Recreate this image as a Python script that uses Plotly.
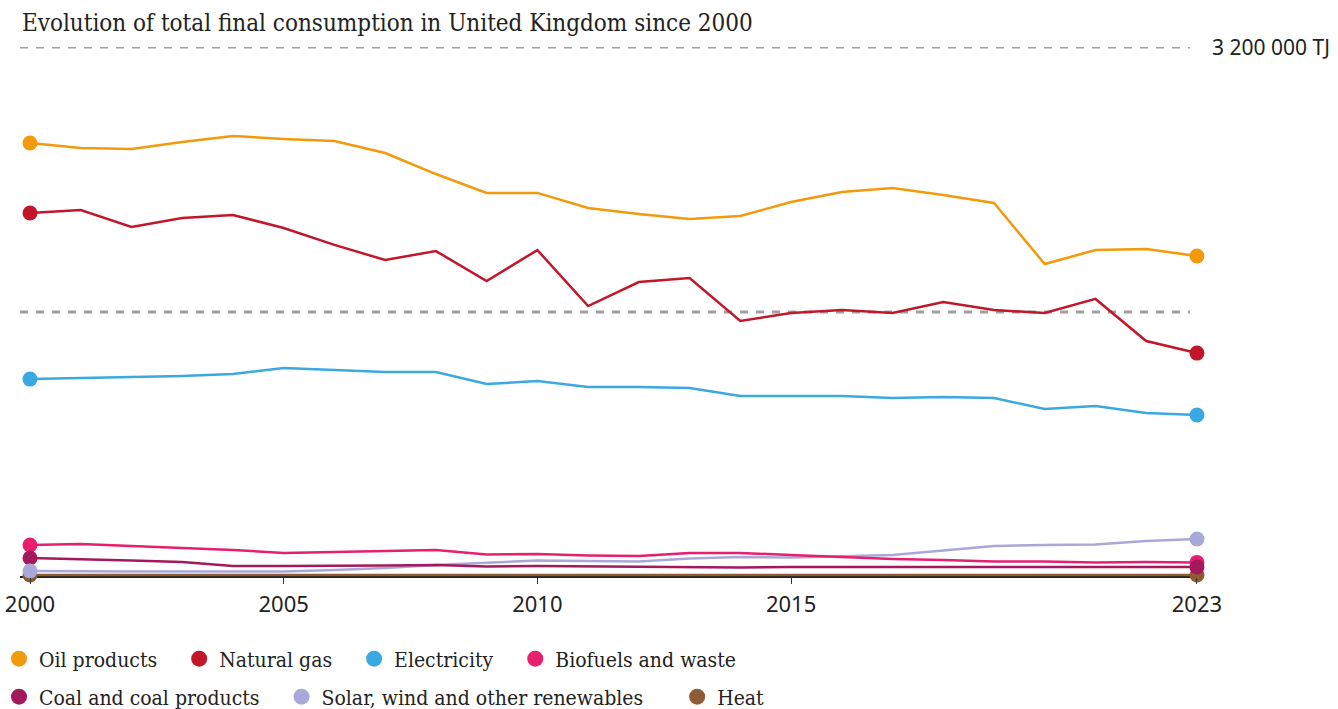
import plotly.graph_objects as go

years = list(range(2000, 2024))

oil_products = [2620000, 2590000, 2584000, 2627000, 2663000, 2645000, 2633000, 2560000,
                2433000, 2319000, 2319000, 2228000, 2192000, 2162000, 2180000, 2264000,
                2325000, 2349000, 2307000, 2258000, 1890000, 1974000, 1980000, 1938000]
natural_gas = [2198000, 2216000, 2113000, 2168000, 2186000, 2107000, 2005000, 1914000,
               1968000, 1787000, 1974000, 1636000, 1781000, 1805000, 1546000, 1594000,
               1612000, 1594000, 1660000, 1612000, 1594000, 1679000, 1425000, 1352000]
electricity = [1195000, 1202000, 1205000, 1214000, 1226000, 1262000, 1250000, 1238000,
               1238000, 1165000, 1183000, 1147000, 1147000, 1141000, 1093000, 1093000,
               1093000, 1081000, 1087000, 1081000, 1014000, 1032000, 990000, 978000]
biofuels_waste = [193000, 199000, 187000, 175000, 163000, 145000, 151000, 154000,
                  163000, 136000, 139000, 130000, 127000, 145000, 145000, 133000,
                  121000, 109000, 103000, 94000, 94000, 88000, 91000, 88000]
coal = [115000, 109000, 100000, 91000, 66000, 66000, 66000, 69000,
        72000, 63000, 66000, 63000, 63000, 60000, 57000, 60000,
        60000, 60000, 60000, 60000, 60000, 58000, 58000, 60000]
renewables = [36000, 33000, 33000, 33000, 33000, 33000, 42000, 54000,
              72000, 85000, 100000, 97000, 94000, 112000, 121000, 118000,
              127000, 133000, 160000, 187000, 193000, 196000, 217000, 229000]
heat = [12000] * 24

ref_lines = [1600000, 3200000]

series = [
    ("Oil products", oil_products, "#f39a0c", "legend"),
    ("Natural gas", natural_gas, "#c2172b", "legend"),
    ("Electricity", electricity, "#3aa9e1", "legend"),
    ("Biofuels and waste", biofuels_waste, "#e61f6f", "legend"),
    ("Coal and coal products", coal, "#a3195b", "legend2"),
    ("Solar, wind and other renewables", renewables, "#aaa8d8", "legend2"),
    ("Heat", heat, "#8e5b32", "legend2"),
]

line_order = [0, 1, 2, 5, 3, 4, 6]
dot_order = [0, 1, 2, 3, 6, 4, 5]

W, H = 1338, 709
left, right_edge, top, zero_y = 20, 1200, 47, 577

fig = go.Figure()

# dashed reference lines
for v in ref_lines:
    fig.add_shape(type="line", xref="paper", x0=0, x1=0.9915, yref="y", y0=v, y1=v,
                  line=dict(color="#a0a0a0", width=3, dash="8px,8px"), layer="below")

for i in line_order:
    name, vals, color, _ = series[i]
    fig.add_trace(go.Scatter(x=years, y=vals, mode="lines", name=name,
                             line=dict(color=color, width=2.5),
                             showlegend=False, cliponaxis=False, hoverinfo="skip"))
for i in dot_order:
    name, vals, color, _ = series[i]
    fig.add_trace(go.Scatter(x=[years[0], years[-1]], y=[vals[0], vals[-1]], mode="markers",
                             name=name, marker=dict(size=15, color=color, opacity=1),
                             showlegend=False, cliponaxis=False))

# legend-only marker traces
pad = "\u00a0" * 3
for name, vals, color, leg in series:
    extra = "\u00a0" * 2 if name.startswith("Solar") else ""
    fig.add_trace(go.Scatter(x=[None], y=[None], mode="markers", name=name + pad + extra,
                             marker=dict(size=17, color=color), legend=leg))

font_serif = "DejaVu Serif Condensed"
leg_font = dict(family=font_serif, size=21, color="#222")
fig.update_layout(
    width=W, height=H,
    margin=dict(l=left, r=W - right_edge, t=top, b=H - zero_y, autoexpand=False),
    plot_bgcolor="white", paper_bgcolor="white",
    showlegend=True,
    legend=dict(orientation="h", xref="container", x=0, xanchor="left", indentation=-1,
                yref="container", y=1 - 659 / H, yanchor="middle",
                font=leg_font, itemsizing="trace", bgcolor="rgba(0,0,0,0)"),
    legend2=dict(orientation="h", xref="container", x=0, xanchor="left", indentation=-1,
                 yref="container", y=1 - 697 / H, yanchor="middle",
                 font=leg_font, itemsizing="trace", bgcolor="rgba(0,0,0,0)"),
)
fig.update_xaxes(range=[2000 - 0.197, 2023 + 0.06], tickvals=[2000, 2005, 2010, 2015, 2023],
                 showgrid=False, ticks="outside", ticklen=6, tickcolor="#333", tickwidth=1,
                 tickfont=dict(family="Noto Sans", size=22, color="#222"), zeroline=False,
                 showline=False, automargin=False, ticklabelstandoff=2,
                 ticklabeloverflow="allow")
fig.update_yaxes(range=[0, 3200000], showticklabels=False, showgrid=False,
                 zeroline=True, zerolinecolor="#222", zerolinewidth=2, showline=False,
                 automargin=False)
fig.add_annotation(text="Evolution of total final consumption in United Kingdom since 2000",
                   x=0, xref="paper", xanchor="left", y=1, yref="paper", yanchor="middle",
                   yshift=24, showarrow=False,
                   font=dict(family=font_serif, size=24, color="#222"))
fig.add_annotation(text="3 200 000 TJ", x=1, xref="paper", xanchor="left", xshift=10,
                   y=3200000, yref="y", yanchor="middle", showarrow=False,
                   font=dict(family="Noto Sans", size=21, color="#222"))

# drop the default 8px body margin so the figure sits at the page corner
fig.write_html("out.html", config={"displayModeBar": False},
               post_script="document.body.style.margin='0';")
